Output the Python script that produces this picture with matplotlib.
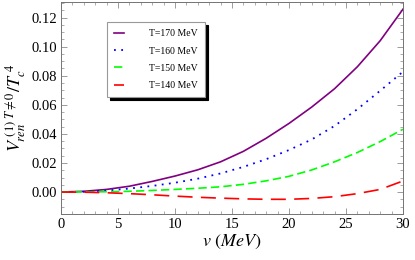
import matplotlib
matplotlib.use('Agg')
import matplotlib.pyplot as plt
import numpy as np

# v in MeV, potential values
v = [0, 2, 4, 6, 8, 10, 12, 14, 16, 18, 20, 22, 24, 26, 28, 30]
V_170 = [0, 0.0005, 0.0018, 0.0040, 0.0073, 0.0110, 0.0153, 0.0208, 0.0280, 0.0370,
         0.0472, 0.0585, 0.0711, 0.0862, 0.1041, 0.1258]
V_160 = [0, 0.0002, 0.0010, 0.0024, 0.0042, 0.0064, 0.0092, 0.0128, 0.0173, 0.0226,
         0.0289, 0.0362, 0.0455, 0.0570, 0.0697, 0.0828]
V_150 = [0, 0.0001, 0.0002, 0.0005, 0.0011, 0.0018, 0.0026, 0.0036, 0.0053, 0.0077,
         0.0108, 0.0152, 0.0208, 0.0272, 0.0347, 0.0432]
V_140 = [0, -0.0001, -0.0005, -0.0011, -0.0019, -0.0028, -0.0036, -0.0042, -0.0047, -0.0050,
         -0.0050, -0.0044, -0.0032, -0.0011, 0.0018, 0.0076]
labels = ['T=170 MeV', 'T=160 MeV', 'T=150 MeV', 'T=140 MeV']

plt.rcParams['mathtext.fontset'] = 'stix'
plt.rcParams['font.family'] = 'Liberation Serif'

fig = plt.figure(figsize=(4.15, 2.6), dpi=100)
ax = fig.add_axes([0.147, 0.177, 0.824, 0.815])

ax.plot(v, V_170, color='#800080', lw=1.2, label=labels[0])
ax.plot(v, V_160, color='#0000ff', lw=1.3, linestyle=(0, (1, 3)), label=labels[1])
ax.plot(v, V_150, color='#00ff00', lw=1.2, linestyle=(0, (5, 2.5)), label=labels[2])
ax.plot(v, V_140, color='#ff0000', lw=1.2, linestyle=(0, (9, 5)), label=labels[3])

ax.set_xlim(0, 30)
ax.set_ylim(-0.0151, 0.1307)
ax.set_xticks(np.arange(0, 31, 5))
ax.set_xticks(np.arange(0, 31, 1), minor=True)
ax.set_yticks(np.arange(0, 0.121, 0.02))
ax.set_yticks(np.arange(-0.015, 0.131, 0.005), minor=True)
ax.set_yticklabels(['%.2f' % t for t in np.arange(0, 0.121, 0.02)])

ax.tick_params(which='both', direction='in', top=True, right=True, color='0.55',
               labelsize=10.5, pad=3)
ax.tick_params(which='major', length=4, width=0.6)
ax.tick_params(which='minor', length=2, width=0.5)
for s in ax.spines.values():
    s.set_color('0.45')
    s.set_linewidth(0.7)

ax.set_xlabel(r'$v\ (MeV)$', fontsize=13, labelpad=1)
ax.set_ylabel(r'$V_{ren}^{\ (1)\ T\neq0}/T_c^{\ 4}$', fontsize=13, labelpad=2)

leg = ax.legend(loc='upper left', bbox_to_anchor=(0.134, 0.906), fontsize=7,
                handlelength=1.0, handletextpad=2.6, labelspacing=0.85,
                borderpad=0.75, borderaxespad=0, fancybox=False, frameon=True,
                shadow={'color': 'black', 'alpha': 1.0})
leg.get_frame().set_edgecolor('0.6')
leg.get_frame().set_linewidth(0.8)

fig.savefig('out.png', dpi=100)
